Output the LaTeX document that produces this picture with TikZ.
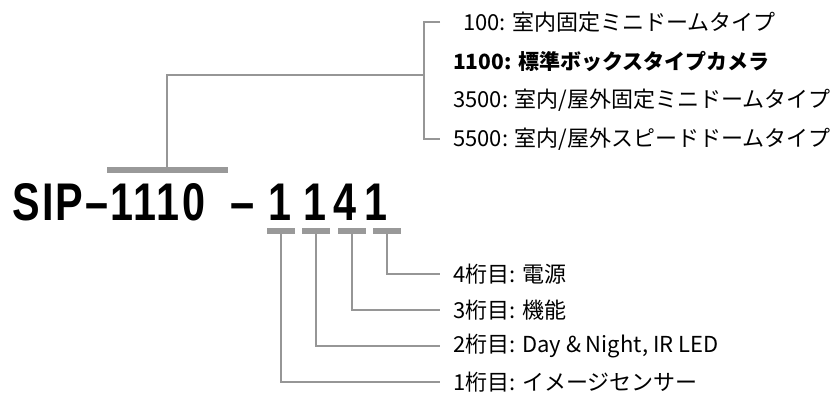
\documentclass[tikz,border=0pt]{standalone}
\usepackage{graphicx}
\usepackage{fontspec}
\setmainfont{Noto Sans CJK JP}
\newfontfamily\partfont[LetterSpace=5.5]{Liberation Sans}
\usetikzlibrary{calc}
\definecolor{linegray}{RGB}{150,150,150}
\definecolor{bargray}{RGB}{153,153,153}

\begin{document}
\begin{tikzpicture}[x = 1pt, y = -1pt,
                    lead/.style     = {draw=linegray, line width=2pt},
                    digitbar/.style = {fill=bargray, minimum width=28pt, minimum height=6pt, inner sep=0pt},
                    part/.style     = {anchor=base, inner sep=0pt, font=\partfont\bfseries\fontsize{53}{60}\selectfont},
                    item/.style     = {anchor=west, inner sep=0pt, font=\fontsize{22}{24}\selectfont}]

    \useasboundingbox (0,0) rectangle (834,392);

    % part number
    \node[part, anchor=base west] (P) at (12,220) {\scalebox{0.78}[1]{SIP–1110}};
    \node[part] (dash) at (243,220) {\scalebox{0.82}[1]{–}};
    \foreach \i/\x in {1/280, 2/315, 3/345, 4/376}
        \node[part] (n\i) at (\x,220) {\scalebox{0.78}[1]{\ifcase\i\or 1\or 1\or 4\or 1\fi}};

    % series: bar, lead and bracket
    \node[fill=bargray, minimum width=121pt, minimum height=6pt, inner sep=0pt] (S) at (167,170) {};
    \coordinate (J) at (424,75);
    \draw[lead] (S.north) |- (J);

    \node[item] (u1) at (463,22)  {100: 室内固定ミニドームタイプ};
    \node[item, font=\fontsize{21}{24}\selectfont\bfseries] (u2) at (453,61) {1100: 標準ボックスタイプカメラ};
    \node[item] (u3) at (453,100) {3500: 室内/屋外固定ミニドームタイプ};
    \node[item] (u4) at (453,139) {5500: 室内/屋外スピードドームタイプ};

    \coordinate (Ut) at (440,22);
    \coordinate (Ub) at (440,139);
    \draw[lead] (Ut) -- ++(-16,0) |- (Ub);

    % digits: bars and leads
    \foreach \i/\x in {1/281, 2/316, 3/352, 4/387}
        \node[digitbar] (d\i) at (\x,231) {};

    \node[item] (l4) at (453,274) {4桁目: 電源};
    \node[item] (l3) at (453,310) {3桁目: 機能};
    \node[item] (l2) at (453,346) {2桁目: Day \& Night, IR LED};
    \node[item] (l1) at (453,382) {1桁目: イメージセンサー};

    \foreach \i in {1,...,4}
        \draw[lead] (d\i.south) |- ([xshift=-13pt]l\i.west);

\end{tikzpicture}
\end{document}
